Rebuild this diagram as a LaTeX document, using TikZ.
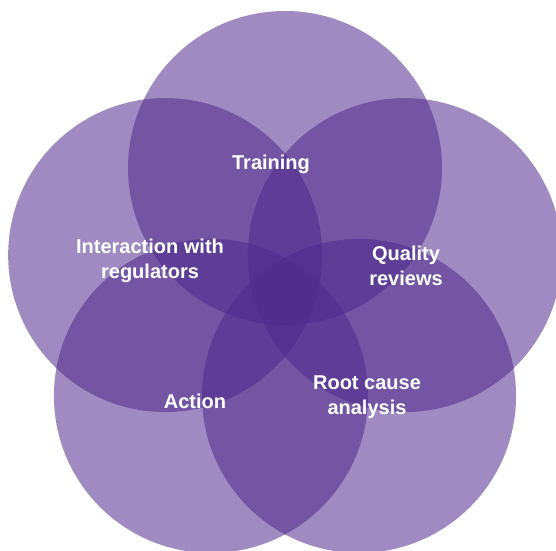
\documentclass[tikz,border=0pt]{standalone}
\usepackage{fontspec}
\setmainfont{Liberation Sans}
\usepackage{tikz}
\usetikzlibrary{positioning}
\definecolor{petalpurple}{HTML}{4E298D}
\begin{document}
\begin{tikzpicture}[line cap=round,line join=round,x=1pt,y=1pt,
  petal/.style={fill=petalpurple,fill opacity=0.54},
  lbl/.style={text=white,font=\bfseries\fontsize{20}{25}\selectfont,align=center}]
\useasboundingbox (0,0) rectangle (556,550);
\fill[white] (0,0) rectangle (556,550);
\clip (0,0) rectangle (556,550);
\coordinate (hub) at (285,256);
\foreach \a in {90,162,234,306,18}
\fill[petal] (hub) ++(\a:126) circle (157pt);
\node[lbl,anchor=base] (training) at (271,381) {Training};
\node[lbl] (regulators) at (150,289) {Interaction with\\regulators};
\node[lbl] (reviews) at (406,284) {Quality\\reviews};
\node[lbl,anchor=base] (action) at (195,142) {Action};
\node[lbl] (rootcause) at (367,153) {Root cause\\analysis};
\end{tikzpicture}
\end{document}
